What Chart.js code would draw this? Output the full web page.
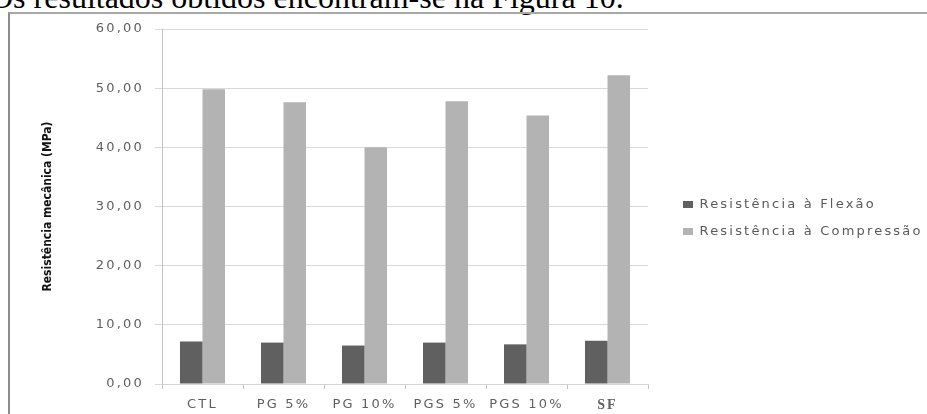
<!DOCTYPE html>
<html><head><meta charset="utf-8">
<script src="https://cdn.jsdelivr.net/npm/chart.js@4/dist/chart.umd.min.js"></script>
<style>
html,body{margin:0;padding:0;background:#fff;width:927px;height:414px;overflow:hidden;position:relative}
#cap{position:absolute;left:-10px;top:-19px;font:32px/32px "Liberation Serif","Times New Roman",serif;color:#000;white-space:nowrap}
#frame{position:absolute;left:8px;top:12px;width:919px;height:402px;box-sizing:border-box;border-left:2px solid #8c8c8c;border-top:2px solid #a8a8a8}
#wrap{position:absolute;left:0;top:0;width:917px;height:400px}
</style></head><body>
<div id="cap">Os resultados obtidos encontram-se na Figura 10.</div>
<div id="frame"><div id="wrap"><canvas id="c"></canvas></div></div>
<script>
const categories = ['CTL', 'PG 5%', 'PG 10%', 'PGS 5%', 'PGS 10%', 'SF'];
const flexao = [7.2, 7.0, 6.5, 7.0, 6.7, 7.3];
const compressao = [49.8, 47.6, 40.0, 47.8, 45.4, 52.2];
const seriesNames = ['Resistência à Flexão', 'Resistência à Compressão'];
const yTicks = [0, 10, 20, 30, 40, 50, 60];
const yTitle = 'Resistência mecânica (MPa)';

const SPACING = '2.2px';
const spacingPlugin = {
  id: 'spacing',
  beforeUpdate(c) { c.ctx.letterSpacing = SPACING; },
  beforeLayout(c) { c.ctx.letterSpacing = SPACING; },
  beforeDraw(c) {
    c.ctx.letterSpacing = SPACING;
    const y = c.scales.y;
    if (y && !y._noSpaceTitle) {
      const d = y.drawTitle;
      y.drawTitle = function () {
        const ctx = this.ctx, ls = ctx.letterSpacing;
        ctx.letterSpacing = '0px';
        d.apply(this, arguments);
        ctx.letterSpacing = ls;
      };
      y._noSpaceTitle = true;
    }
  }
};
const legendPlace = {
  id: 'legendPlace',
  afterInit(c) {
    const lg = c.legend;
    const f = lg.fit;
    lg.fit = function () { f.call(this); this.width = 279; };
  },
  afterLayout(c) {
    const lg = c.legend;
    lg.left = 659; lg.right = lg.left + lg.width;
    lg.top = 170; lg.bottom = 400;
  }
};

const sansTick = { family: 'DejaVu Sans', size: 13 };
const serifTick = { family: 'Liberation Serif', size: 14, weight: 'bold' };

new Chart(document.getElementById('c'), {
  type: 'bar',
  data: {
    labels: categories,
    datasets: [
      { label: seriesNames[0], data: flexao, backgroundColor: '#606060', borderWidth: 0 },
      { label: seriesNames[1], data: compressao, backgroundColor: '#b3b3b3', borderWidth: 0 }
    ]
  },
  options: {
    responsive: true,
    maintainAspectRatio: false,
    animation: false,
    devicePixelRatio: 1,
    layout: { padding: { top: 15, left: 0, right: 0, bottom: 0 } },
    datasets: { bar: { categoryPercentage: 0.556, barPercentage: 1.0 } },
    plugins: {
      tooltip: { enabled: false },
      legend: {
        position: 'right',
        align: 'start',
        labels: {
          boxWidth: 10, boxHeight: 7, padding: 14,
          color: '#5a5a5a',
          font: { family: 'DejaVu Sans', size: 13 }
        }
      }
    },
    scales: {
      x: {
        afterFit(s) { s.height = 30; },
        grid: { drawOnChartArea: false, drawTicks: true, tickLength: 5, offset: true, color: '#c4c4c4' },
        border: { display: true, color: '#d4d4d4' },
        ticks: {
          color: '#5f5f5f', padding: 8, maxRotation: 0,
          font: ctx => (ctx.index === categories.length - 1 ? serifTick : sansTick)
        }
      },
      y: {
        min: 0, max: 60,
        afterFit(s) { s.width = 152; s.paddingTop = 0; s.paddingBottom = 0; },
        afterBuildTicks(s) { s.ticks = yTicks.map(v => ({ value: v })); },
        grid: { color: '#d9d9d9', tickLength: 7, drawTicks: true },
        border: { display: true, color: '#c4c4c4' },
        ticks: {
          color: '#5f5f5f', padding: 11,
          font: sansTick,
          callback: v => v.toFixed(2).replace('.', ',')
        },
        title: {
          display: true, text: yTitle, color: '#111',
          font: { family: '"Liberation Sans Narrow", "DejaVu Sans Condensed", sans-serif', size: 12, weight: 'bold' },
          padding: { top: 31, bottom: 0 }
        }
      }
    }
  },
  plugins: [spacingPlugin, legendPlace]
});
</script>
</body></html>
